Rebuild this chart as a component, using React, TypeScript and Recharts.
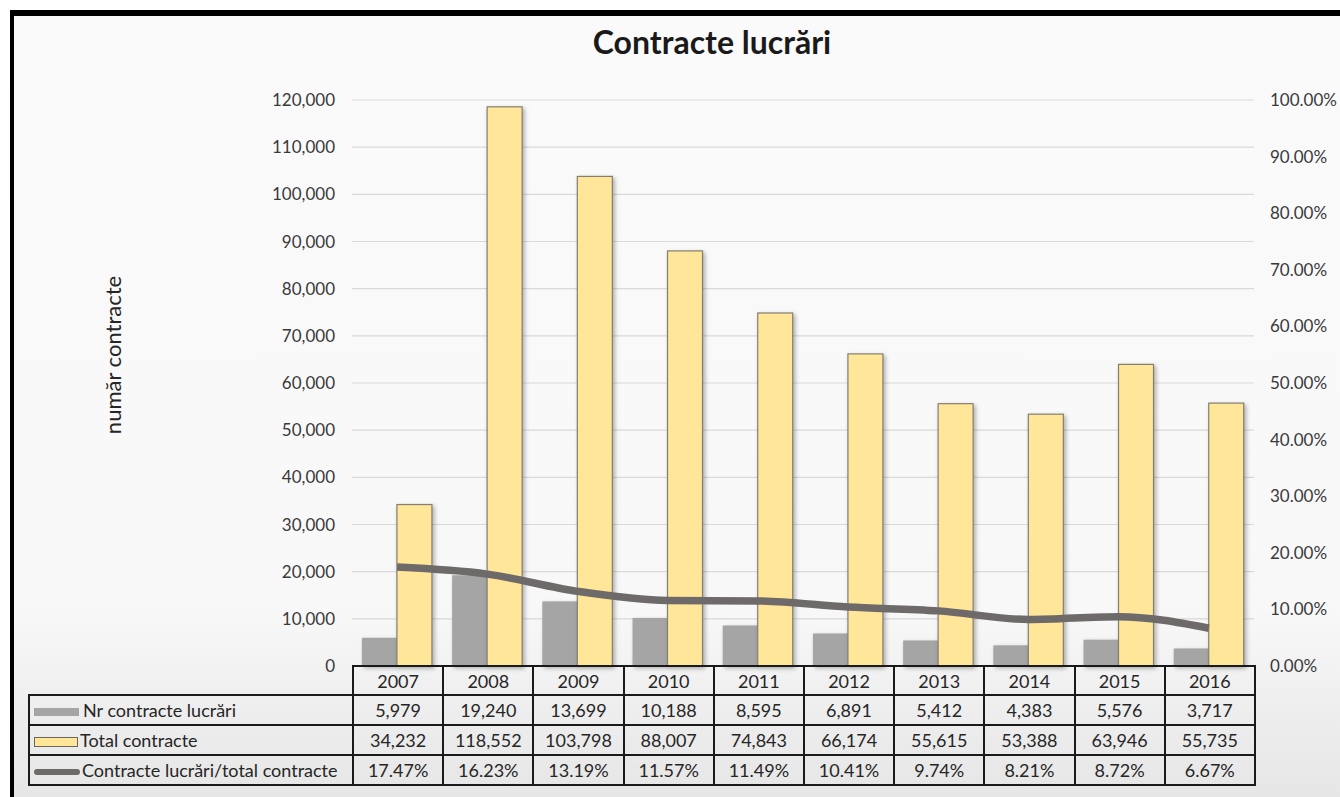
import React from 'react';
import { ComposedChart, Bar, Line, XAxis, YAxis, CartesianGrid } from 'recharts';

const years = ['2007', '2008', '2009', '2010', '2011', '2012', '2013', '2014', '2015', '2016'];
const nrLucrari = [5979, 19240, 13699, 10188, 8595, 6891, 5412, 4383, 5576, 3717];
const totalContracte = [34232, 118552, 103798, 88007, 74843, 66174, 55615, 53388, 63946, 55735];
const procent = [17.47, 16.23, 13.19, 11.57, 11.49, 10.41, 9.74, 8.21, 8.72, 6.67];

const leftTicks = [0, 10000, 20000, 30000, 40000, 50000, 60000, 70000, 80000, 90000, 100000, 110000, 120000];
const rightTicks = [0, 10, 20, 30, 40, 50, 60, 70, 80, 90, 100];

const data = years.map((y, i) => ({
  year: y,
  nr: nrLucrari[i],
  total: totalContracte[i],
  pct: procent[i],
}));

const FONT = 'Lato, "Open Sans", sans-serif';
const W = 1340;
const H = 797;
const PLOT_LEFT = 352;
const PLOT_RIGHT = 1254;
const PLOT_TOP = 100;
const PLOT_BOTTOM = 666;

const GRAY = '#a5a5a5';
const YELLOW = '#ffe699';
const LINE = '#6e6a6a';

const fmtNum = (v: number) => v.toLocaleString('en-US');
const fmtPct = (v: number) => v.toFixed(2) + '%';

const ShadowBar = (props: any) => {
  const { x, y, width, height, fill, stroke } = props;
  if (!height || height <= 0) return null;
  return (
    <rect
      x={x}
      y={y}
      width={width}
      height={height}
      fill={fill}
      stroke={stroke || 'none'}
      strokeWidth={stroke ? 1.2 : 0}
      style={{ filter: 'drop-shadow(2px 2px 2px rgba(0,0,0,0.3))' }}
    />
  );
};

const cell: React.CSSProperties = {
  border: '2px solid #1a1a1a',
  textAlign: 'center',
  padding: 0,
  height: 28,
  fontSize: 18,
  color: '#262626',
  whiteSpace: 'nowrap',
};

const labelCell: React.CSSProperties = {
  ...cell,
  textAlign: 'left',
  paddingLeft: 4,
};

export default function App() {
  const colW = (PLOT_RIGHT - PLOT_LEFT) / years.length;
  return (
    <div style={{ position: 'absolute', left: 0, top: 0, width: W, height: H, background: '#ffffff', overflow: 'hidden' }}>
      <div
        style={{
          position: 'absolute',
          left: 10,
          top: 10,
          width: W - 10,
          height: H - 10,
          borderTop: '6px solid #000',
          borderLeft: '4px solid #000',
          boxSizing: 'border-box',
          background: 'linear-gradient(#fafafa 0%, #f8f8f8 76%, #ededed 90%, #e6e6e6 100%)',
        }}
      />
      <div
        style={{
          position: 'absolute',
          left: 0,
          width: W,
          top: 22,
          textAlign: 'center',
          paddingLeft: 84,
          boxSizing: 'border-box',
          fontFamily: FONT,
          fontWeight: 700,
          fontSize: 32,
          lineHeight: '40px',
          color: '#1a1a1a',
        }}
      >
        Contracte lucrări
      </div>
      <div
        style={{
          position: 'absolute',
          left: 112,
          top: 355,
          transform: 'translate(-50%, -50%) rotate(-90deg)',
          fontFamily: FONT,
          fontSize: 22,
          color: '#262626',
          whiteSpace: 'nowrap',
        }}
      >
        număr contracte
      </div>
      <div style={{ position: 'absolute', left: 0, top: 0 }}>
        <ComposedChart
          width={W}
          height={H}
          data={data}
          margin={{ top: PLOT_TOP, right: 0, bottom: H - PLOT_BOTTOM, left: 0 }}
          barCategoryGap="11%"
          barGap={0}
        >
          <CartesianGrid yAxisId="left" vertical={false} stroke="#d9d9d9" strokeWidth={1.2} />
          <XAxis dataKey="year" hide />
          <YAxis
            yAxisId="left"
            orientation="left"
            width={PLOT_LEFT}
            domain={[0, 120000]}
            ticks={leftTicks}
            tickFormatter={fmtNum}
            axisLine={false}
            tickLine={false}
            tickMargin={11}
            tick={{ fontFamily: FONT, fontSize: 17, fill: '#3a3a3a' }}
          />
          <YAxis
            yAxisId="right"
            orientation="right"
            width={W - PLOT_RIGHT}
            domain={[0, 100]}
            ticks={rightTicks}
            tickFormatter={fmtPct}
            axisLine={false}
            tickLine={false}
            tickMargin={10}
            tick={{ fontFamily: FONT, fontSize: 17, fill: '#3a3a3a', textAnchor: 'start' }}
          />
          <Bar yAxisId="left" dataKey="nr" fill={GRAY} shape={<ShadowBar />} isAnimationActive={false} />
          <Bar yAxisId="left" dataKey="total" fill={YELLOW} stroke="#857f72" shape={<ShadowBar />} isAnimationActive={false} />
          <Line
            yAxisId="right"
            dataKey="pct"
            type="monotone"
            stroke={LINE}
            strokeWidth={7.5}
            strokeLinecap="butt"
            dot={false}
            activeDot={false}
            isAnimationActive={false}
          />
        </ComposedChart>
      </div>
      <table
        style={{
          position: 'absolute',
          left: 28,
          top: PLOT_BOTTOM - 1,
          width: PLOT_RIGHT - 28 + 1,
          borderCollapse: 'collapse',
          tableLayout: 'fixed',
          fontFamily: FONT,
        }}
      >
        <colgroup>
          <col style={{ width: PLOT_LEFT - 28 }} />
          {years.map((y) => (
            <col key={y} style={{ width: colW }} />
          ))}
        </colgroup>
        <tbody>
          <tr>
            <td style={{ ...cell, border: 'none', height: 27 }} />
            {years.map((y) => (
              <td key={y} style={{ ...cell, height: 27 }}>{y}</td>
            ))}
          </tr>
          <tr>
            <td style={labelCell}>
              <span style={{ display: 'inline-block', width: 45, height: 8, background: GRAY, marginRight: 4, verticalAlign: 'middle' }} />
              Nr contracte lucrări
            </td>
            {nrLucrari.map((v, i) => (
              <td key={i} style={cell}>{fmtNum(v)}</td>
            ))}
          </tr>
          <tr>
            <td style={labelCell}>
              <span style={{ display: 'inline-block', width: 44, height: 10, background: YELLOW, border: '1px solid #6b665c', marginRight: 2, verticalAlign: 'middle', boxSizing: 'border-box' }} />
              Total contracte
            </td>
            {totalContracte.map((v, i) => (
              <td key={i} style={cell}>{fmtNum(v)}</td>
            ))}
          </tr>
          <tr>
            <td style={labelCell}>
              <span style={{ display: 'inline-block', width: 46, height: 6, borderRadius: 3, background: LINE, marginRight: 2, verticalAlign: 'middle' }} />
              Contracte lucrări/total contracte
            </td>
            {procent.map((v, i) => (
              <td key={i} style={cell}>{fmtPct(v)}</td>
            ))}
          </tr>
        </tbody>
      </table>
    </div>
  );
}
